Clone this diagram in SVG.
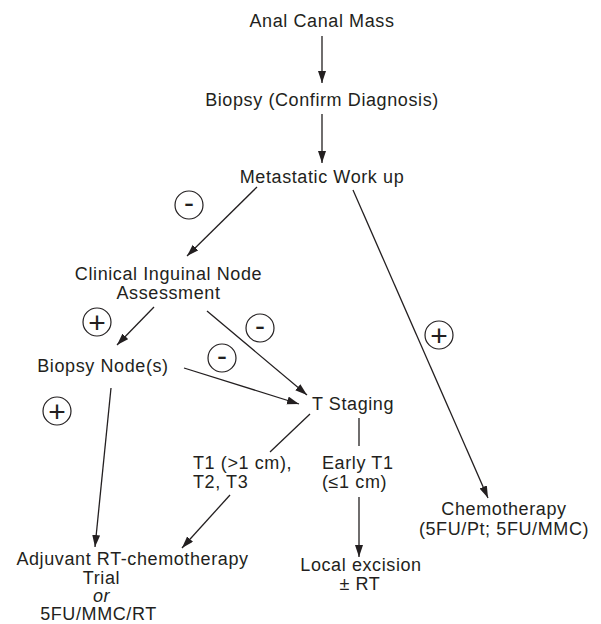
<svg xmlns="http://www.w3.org/2000/svg" width="601" height="624" viewBox="0 0 601 624">
<style>
text{font-family:"Liberation Sans",Arial,sans-serif;font-size:18px;letter-spacing:0.6px;fill:#231f20}
.c{text-anchor:middle}
.s{text-anchor:start}
.sg{font-size:30px;text-anchor:middle;letter-spacing:0}
.ln{stroke:#231f20;stroke-width:1.3;fill:none}
.ar{marker-end:url(#ah)}
.cir{fill:none;stroke:#231f20;stroke-width:1.2}
</style>
<defs>
<marker id="ah" markerUnits="userSpaceOnUse" markerWidth="13" markerHeight="9" refX="12" refY="4" orient="auto">
<path d="M0,0 L12,4 L0,8 z" fill="#231f20"/>
</marker>
</defs>
<rect width="601" height="624" fill="#fff"/>
<g id="connectors">
<line class="ln ar" x1="322" y1="36" x2="322" y2="83"/>
<line class="ln ar" x1="322" y1="114" x2="322" y2="163"/>
<line class="ln ar" x1="257" y1="187" x2="187" y2="256"/>
<line class="ln ar" x1="353" y1="190" x2="488" y2="498"/>
<line class="ln ar" x1="154" y1="307" x2="117" y2="345"/>
<line class="ln ar" x1="207" y1="311" x2="307" y2="395"/>
<line class="ln ar" x1="184" y1="368" x2="299" y2="404"/>
<line class="ln" x1="310" y1="414" x2="270" y2="452"/>
<line class="ln" x1="359" y1="418" x2="359" y2="446"/>
<line class="ln ar" x1="359" y1="497" x2="359" y2="557"/>
<line class="ln ar" x1="230" y1="495" x2="182" y2="548"/>
<line class="ln ar" x1="111" y1="388" x2="95" y2="547"/>
</g>
<g id="signs">
<g id="sign-minus-1"><circle class="cir" cx="189" cy="205" r="14"/><text class="sg" x="189" y="213">-</text></g>
<g id="sign-plus-1"><circle class="cir" cx="97" cy="322" r="14"/><text class="sg" x="97" y="332.5">+</text></g>
<g id="sign-minus-2"><circle class="cir" cx="260" cy="328" r="14"/><text class="sg" x="260" y="336">-</text></g>
<g id="sign-minus-3"><circle class="cir" cx="222" cy="358" r="14"/><text class="sg" x="222" y="366">-</text></g>
<g id="sign-plus-2"><circle class="cir" cx="57" cy="411" r="14"/><text class="sg" x="57" y="421.5">+</text></g>
<g id="sign-plus-3"><circle class="cir" cx="439" cy="335" r="14"/><text class="sg" x="439" y="345.5">+</text></g>
</g>
<g id="n-mass"><text class="c" x="322" y="27">Anal Canal Mass</text></g>
<g id="n-biopsy"><text class="c" x="322" y="106">Biopsy (Confirm Diagnosis)</text></g>
<g id="n-meta"><text class="c" x="322" y="183">Metastatic Work up</text></g>
<g id="n-clinical"><text class="c" x="168.5" y="280">Clinical Inguinal Node</text><text class="c" x="168.5" y="299">Assessment</text></g>
<g id="n-biopsynode"><text class="c" x="103" y="372">Biopsy Node(s)</text></g>
<g id="n-tstaging"><text class="c" x="353" y="410">T Staging</text></g>
<g id="n-t1"><text class="s" x="193" y="469">T1 (&gt;1 cm),</text><text class="s" x="193" y="488">T2, T3</text></g>
<g id="n-early"><text class="s" x="322" y="469">Early T1</text><text class="s" x="322" y="488">(≤1 cm)</text></g>
<g id="n-local"><text class="c" x="361" y="571">Local excision</text><text class="c" x="360" y="590">± RT</text></g>
<g id="n-chemo"><text class="c" x="504" y="515">Chemotherapy</text><text class="c" x="504" y="535">(5FU/Pt; 5FU/MMC)</text></g>
<g id="n-adjuvant"><text class="c" x="132.5" y="565">Adjuvant RT-chemotherapy</text><text class="c" x="101.5" y="584">Trial</text><text class="c" x="101.5" y="602" font-style="italic">or</text><text class="c" x="98.5" y="620">5FU/MMC/RT</text></g>
</svg>
